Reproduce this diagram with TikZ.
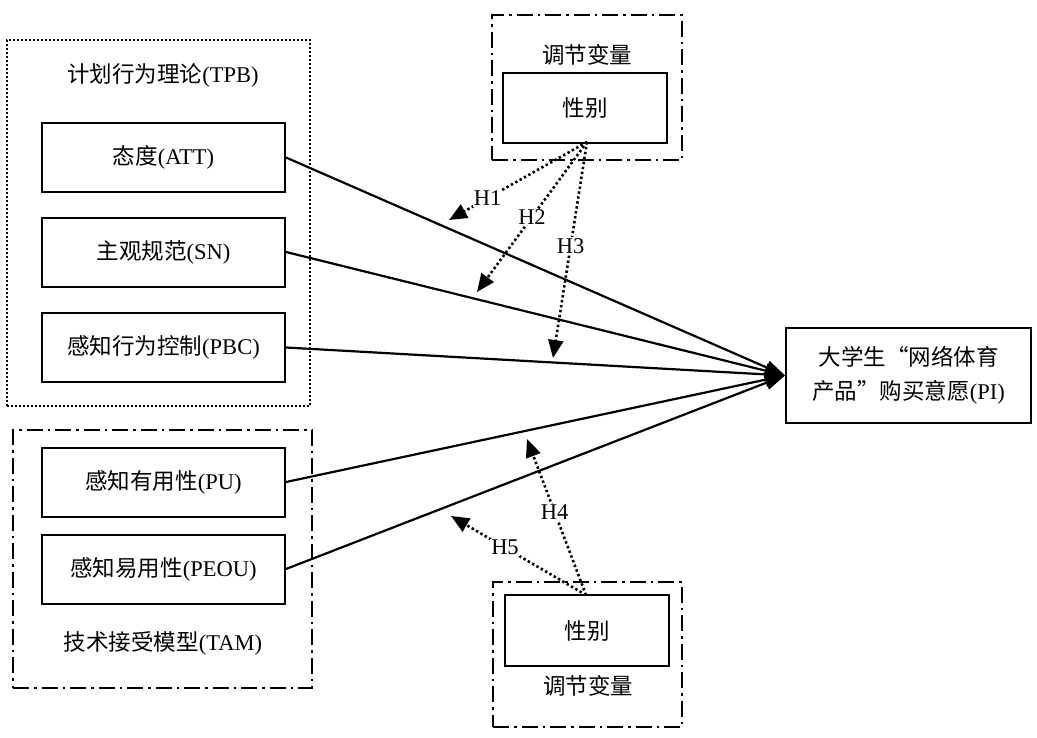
\documentclass[tikz,border=0pt]{standalone}
\usepackage{fontspec}
\setmainfont{Liberation Serif}
\newfontfamily\cjk{Noto Sans CJK SC}
\usetikzlibrary{arrows.meta}
\begin{document}
\begin{tikzpicture}[x=1pt,y=-1pt,
  every node/.style={font=\fontsize{22.5}{34}\selectfont},
  box/.style={draw,line width=2pt,minimum width=243pt,minimum height=69pt,inner sep=0pt},
  gbox/.style={draw,line width=2pt,minimum width=164pt,minimum height=70pt,inner sep=0pt},
  arr/.style={line width=2.2pt,-{Triangle[length=20pt,width=14pt]}},
  darr/.style={line width=2.6pt,dash pattern=on 2.4pt off 2.6pt,-{Triangle[length=18pt,width=15pt]}},
  hlab/.style={fill=white,inner sep=1pt},
  dotframe/.style={draw,line width=2.2pt,dash pattern=on 2pt off 2pt,inner sep=0pt},
  dashdot/.style={draw,line width=2pt,dash pattern=on 16pt off 5pt on 2.5pt off 5pt,inner sep=0pt}]
\useasboundingbox[fill=white] (0,0) rectangle (1037,737);
% group frames
\node[dotframe,minimum width=303pt,minimum height=366pt] (tpb) at (158.5,223) {};
\node[dashdot,minimum width=299pt,minimum height=258pt] (tam) at (162.5,559) {};
\node[dashdot,minimum width=190pt,minimum height=145pt] (modt) at (587,87.5) {};
\node[dashdot,minimum width=189pt,minimum height=145pt] (modb) at (587.5,654.5) {};
% titles
\node (tpbt) at (163,75) {{\cjk 计划行为理论}(TPB)};
\node (tamt) at (163,643) {{\cjk 技术接受模型}(TAM)};
\node (modtt) at (587,55) {\cjk 调节变量};
\node (modbt) at (588,686) {\cjk 调节变量};
% boxes
\node[box] (att) at (163.5,157.5) {{\cjk 态度}(ATT)};
\node[box] (sn) at (163.5,252) {{\cjk 主观规范}(SN)};
\node[box] (pbc) at (163.5,347.5) {{\cjk 感知行为控制}(PBC)};
\node[box] (pu) at (163.5,482) {{\cjk 感知有用性}(PU)};
\node[box] (peou) at (163.5,569) {{\cjk 感知易用性}(PEOU)};
\node[gbox] (g1) at (585,108) {\cjk 性别};
\node[gbox,minimum height=71pt] (g2) at (587,630.5) {\cjk 性别};
\node[draw,line width=2pt,minimum width=245pt,minimum height=95pt,inner sep=0pt,align=center] (pi) at (908.5,375.5)
  {{\cjk 大学生“网络体育}\\{\cjk 产品”购买意愿}(PI)};
% solid arrows
\draw[arr] (att.east) -- (pi.west);
\draw[arr] (sn.east) -- (pi.west);
\draw[arr] (pbc.east) -- (pi.west);
\draw[arr] (pu.east) -- (pi.west);
\draw[arr] (peou.east) -- (pi.west);
% moderator arrows
\coordinate (t1) at (449,220);
\coordinate (t2) at (477,292);
\coordinate (t3) at (553,358);
\coordinate (t4) at (527,439);
\coordinate (t5) at (451,516);
\coordinate (s1) at (587,142);
\coordinate (s2) at (586,595);
\draw[darr] (s1) -- node[hlab,pos=0.72] (h1) {H1} (t1);
\draw[darr] (s1) -- node[hlab,pos=0.5] (h2) {H2} (t2);
\draw[darr] (s1) -- node[hlab,pos=0.48] (h3) {H3} (t3);
\draw[darr] (s2) -- node[hlab,pos=0.53] (h4) {H4} (t4);
\draw[darr] (s2) -- node[hlab,pos=0.6] (h5) {H5} (t5);
\end{tikzpicture}
\end{document}
